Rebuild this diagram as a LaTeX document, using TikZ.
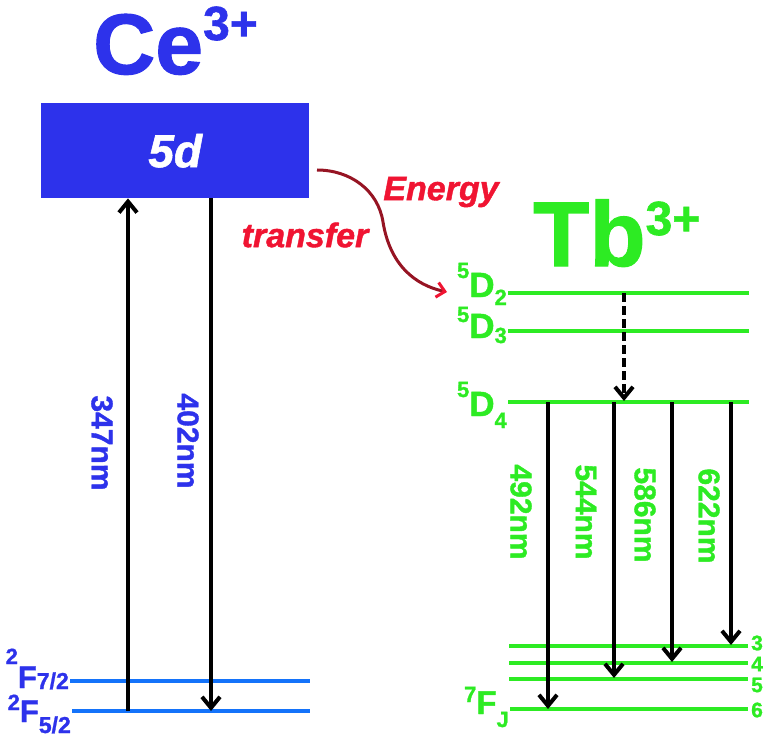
\documentclass[tikz,border=0pt]{standalone}
\usepackage{fontspec}
\setmainfont{Liberation Sans}[BoldFeatures={FakeBold=1.2},BoldItalicFeatures={FakeBold=1.2}]
\usetikzlibrary{arrows.meta}
\definecolor{ceblue}{RGB}{45,50,235}
\definecolor{celine}{RGB}{20,115,250}
\definecolor{tbgreen}{RGB}{45,235,35}
\definecolor{etred}{RGB}{240,20,50}
\definecolor{etdark}{RGB}{150,20,35}
\newcommand\fsz[1]{\fontsize{#1}{#1}\selectfont}
\begin{document}
\begin{tikzpicture}[x=1pt,y=-1pt,
  every node/.style={inner sep=0pt,font=\bfseries},
  trans/.style={line width=4pt,-{Straight Barb[length=11pt,width=18pt]}},
  celev/.style={draw=celine,line width=3.5pt},
  tblev/.style={draw=tbgreen,line width=4.5pt},
  wlce/.style={rotate=-90,ceblue,font=\bfseries\fsz{30}},
  wltb/.style={rotate=-90,tbgreen,font=\bfseries\fsz{30}},
  etlab/.style={etred,font=\bfseries\itshape\fsz{34}},
  jnum/.style={anchor=west,tbgreen,font=\bfseries\fsz{21}},
]
\useasboundingbox (0,0) rectangle (768,738);

% titles
\node[anchor=base west,ceblue,font=\bfseries\fsz{86}] (cet) at (93,74) {Ce\raisebox{34pt}{\fsz{48}3+}};
\node[anchor=base west,tbgreen,font=\bfseries\fsz{92}] (tbt) at (533,266) {Tb\raisebox{31pt}{\fsz{48}3+}};

% Ce 5d band
\node[fill=ceblue,minimum width=268pt,minimum height=95pt,anchor=north west,
      text=white,font=\bfseries\itshape\fsz{46}] (box) at (41,103) {5d};

% Ce ground levels
\coordinate (f72a) at (70,681);  \coordinate (f72b) at (310,681);
\coordinate (f52a) at (72,711);  \coordinate (f52b) at (310,711);
\draw[celev] (f72a) -- (f72b);
\draw[celev] (f52a) -- (f52b);
\node[anchor=base east,ceblue] (lf72) at (69,688)
  {\raisebox{24pt}{\fsz{22}2}\fsz{31}F\raisebox{-1pt}{\fsz{23}7/2}};
\node[anchor=base east,ceblue] (lf52) at (71,722)
  {\raisebox{12pt}{\fsz{22}2}\fsz{31}F\raisebox{-11pt}{\fsz{23}5/2}};

% Ce transitions
\coordinate (u0) at (128,711);
\coordinate (d0) at (211,198);
\coordinate (d1) at (211,711);
\draw[trans] (u0) -- (u0 |- box.south);
\draw[trans] (d0) -- (d1);
\node[wlce] (w347) at (102,443) {347nm};
\node[wlce] (w402) at (188,441) {402nm};

% Tb levels
\coordinate (d2a) at (508,293); \coordinate (d2b) at (749,293);
\coordinate (d3a) at (508,331); \coordinate (d3b) at (749,331);
\coordinate (d4a) at (508,402); \coordinate (d4b) at (749,402);
\coordinate (j3a) at (509,646); \coordinate (j3b) at (748,646);
\coordinate (j4a) at (509,663); \coordinate (j4b) at (748,663);
\coordinate (j5a) at (509,679); \coordinate (j5b) at (748,679);
\coordinate (j6a) at (510,709); \coordinate (j6b) at (748,709);
\foreach \a/\b in {d2a/d2b,d3a/d3b,d4a/d4b,j3a/j3b,j4a/j4b,j5a/j5b,j6a/j6b}
  \draw[tblev] (\a) -- (\b);

\node[anchor=base east,tbgreen] (ld2) at (507,297)
  {\raisebox{19pt}{\fsz{22}5}\fsz{35}D\raisebox{-8pt}{\fsz{22}2}};
\node[anchor=base east,tbgreen] (ld3) at (507,338)
  {\raisebox{16pt}{\fsz{22}5}\fsz{35}D\raisebox{-5pt}{\fsz{22}3}};
\node[anchor=base east,tbgreen] (ld4) at (507,416)
  {\raisebox{19pt}{\fsz{22}5}\fsz{35}D\raisebox{-12pt}{\fsz{22}4}};
\node[anchor=base east,tbgreen] (lfj) at (509,714)
  {\raisebox{12pt}{\fsz{22}7}\fsz{33}F\raisebox{-13pt}{\fsz{22}J}};

\node[jnum] (n3) at (751,643) {3};
\node[jnum] (n4) at (751,664) {4};
\node[jnum] (n5) at (751,685) {5};
\node[jnum] (n6) at (751,710) {6};

% Tb transitions
\coordinate (ds) at (624,293);
\coordinate (de) at (624,401);
\draw[trans,dash pattern=on 9pt off 4pt] (ds) -- (de);
\coordinate (t1s) at (548,402); \coordinate (t1e) at (548,709);
\coordinate (t2s) at (614,402); \coordinate (t2e) at (614,678);
\coordinate (t3s) at (672,402); \coordinate (t3e) at (672,662);
\coordinate (t4s) at (731,402); \coordinate (t4e) at (731,645);
\draw[trans] (t1s) -- (t1e);
\draw[trans] (t2s) -- (t2e);
\draw[trans] (t3s) -- (t3e);
\draw[trans] (t4s) -- (t4e);
\node[wltb] (w492) at (521,512) {492nm};
\node[wltb] (w544) at (586,512) {544nm};
\node[wltb] (w586) at (645,515) {586nm};
\node[wltb] (w622) at (709,516) {622nm};

% energy transfer
\coordinate (es) at (317,170);
\coordinate (em) at (383,222);
\coordinate (ee) at (447,292);
\draw[etdark,line width=3pt,-{Straight Barb[length=8pt,width=15pt,color=etred]}]
  (es) .. controls (350,170) and (378,190) .. (em)
       .. controls (390,265) and (415,285) .. (ee);
\node[etlab] (energy) at (441,192) {Energy};
\node[etlab] (transfer) at (305,235) {transfer};
\end{tikzpicture}
\end{document}
